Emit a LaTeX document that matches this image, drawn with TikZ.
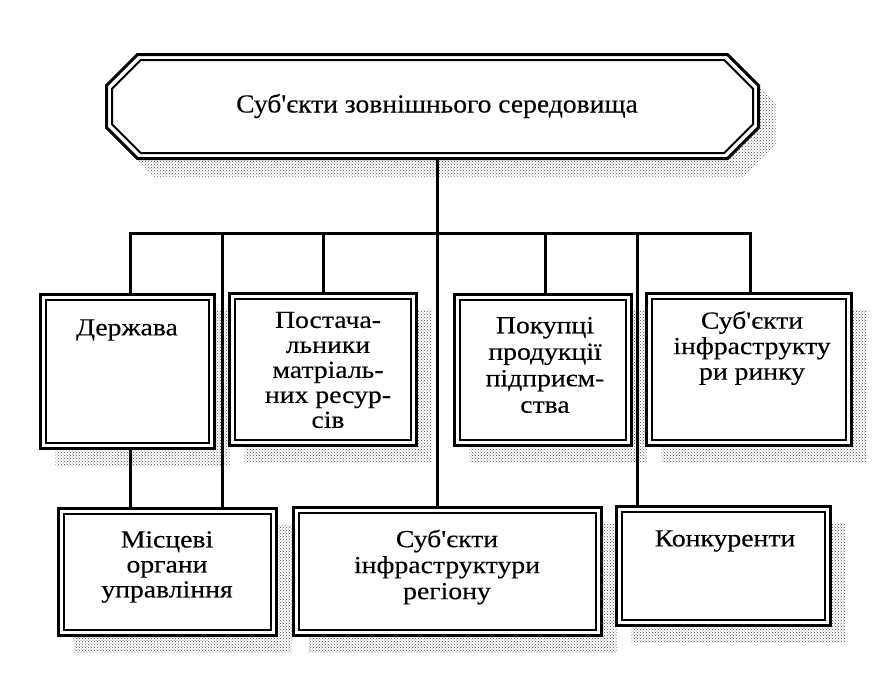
\documentclass[tikz,border=0pt]{standalone}
\usepackage{fontspec}
\setmainfont{Liberation Serif}
\newfontfamily\bodyf{Liberation Serif}[FakeStretch=1.13, FakeBold=0.3]
\newfontfamily\titlef{Liberation Serif}[FakeStretch=1.06, FakeBold=0.3]
\usetikzlibrary{patterns}
\begin{document}
\begin{tikzpicture}[x=1pt,y=-1pt,
  conn/.style={line width=3pt},
  shade/.style={pattern=crosshatch dots, pattern color=black!70},
  bx/.style={draw, line width=3pt, fill=white, rectangle, inner sep=0pt,
    preaction={shade, draw=none, transform canvas={shift={(15pt,-17pt)}}},
    path picture={\draw[line width=2pt]
      ([shift={(5.5pt,-5.5pt)}]path picture bounding box.north west) rectangle
      ([shift={(-5.5pt,5.5pt)}]path picture bounding box.south east);}},
  lbl/.style={align=center, inner sep=0pt, font=\bodyf\fontsize{24.5}{26}\selectfont}]
\useasboundingbox (0,0) rectangle (889,697);
% top octagonal box
\fill[shade, shift={(17,18)}] (137.5,54.5) -- (727.5,54.5) -- (758.5,85.5) -- (758.5,127.5) -- (727.5,158.5) -- (137.5,158.5) -- (106.5,127.5) -- (106.5,85.5) -- cycle;
\draw[line width=3pt, fill=white] (137.5,54.5) -- (727.5,54.5) -- (758.5,85.5) -- (758.5,127.5) -- (727.5,158.5) -- (137.5,158.5) -- (106.5,127.5) -- (106.5,85.5) -- cycle;
\draw[line width=2pt] (140.7,60) -- (724.3,60) -- (753,88.7) -- (753,124.3) -- (724.3,153) -- (140.7,153) -- (112,124.3) -- (112,88.7) -- cycle;
\node[lbl, font=\titlef\fontsize{26}{28}\selectfont] (top) at (437,106) {Суб'єкти зовнішнього середовища};
\coordinate (topS) at (437,158.5);
% boxes
\node[bx, minimum width=174pt, minimum height=154pt] (A) at (127.5,371.5) {};
\node[bx, minimum width=187pt, minimum height=152pt] (B) at (323,369.5) {};
\node[bx, minimum width=177pt, minimum height=151pt] (C) at (543,370) {};
\node[bx, minimum width=205pt, minimum height=152pt] (D) at (749,369.5) {};
\node[bx, minimum width=218pt, minimum height=127pt] (E) at (167.5,572) {};
\node[bx, minimum width=308pt, minimum height=128pt] (F) at (447.5,571.5) {};
\node[bx, minimum width=214pt, minimum height=119pt] (G) at (723.5,566) {};
% texts
\node[lbl] (tA) at (127,330) {Держава};
\node[lbl, font=\bodyf\fontsize{24.5}{25}\selectfont] (tB) at (328,370) {Постача-\\льники\\матріаль-\\них ресур-\\сів};
\node[lbl, font=\bodyf\fontsize{24.5}{26.5}\selectfont] (tC) at (545,365) {Покупці\\продукції\\підприєм-\\ства};
\node[lbl, font=\bodyf\fontsize{24.5}{25.5}\selectfont] (tD) at (752,348) {Суб'єкти\\інфраструкту\\ри ринку};
\node[lbl, font=\bodyf\fontsize{24.5}{25}\selectfont] (tE) at (167,567) {Місцеві\\органи\\управління};
\node[lbl] (tF) at (447,567) {Суб'єкти\\інфраструктури\\регіону};
\node[lbl] (tG) at (725,541) {Конкуренти};
% connectors
\coordinate (busL) at (130,233);
\coordinate (busR) at (750,233);
\coordinate (j2) at (222,233);
\coordinate (j3) at (323,233);
\coordinate (j5) at (545,233);
\coordinate (j6) at (637,233);
\draw[conn] (busL |- A.north) -- (busL) -- (busR) -- (busR |- D.north);
\draw[conn] (topS) -- (topS |- F.north);
\draw[conn] (j2) -- (j2 |- E.north);
\draw[conn] (j3) -- (j3 |- B.north);
\draw[conn] (j5) -- (j5 |- C.north);
\draw[conn] (j6) -- (j6 |- G.north);
\draw[conn] (busL |- A.south) -- (busL |- E.north);
\end{tikzpicture}
\end{document}
